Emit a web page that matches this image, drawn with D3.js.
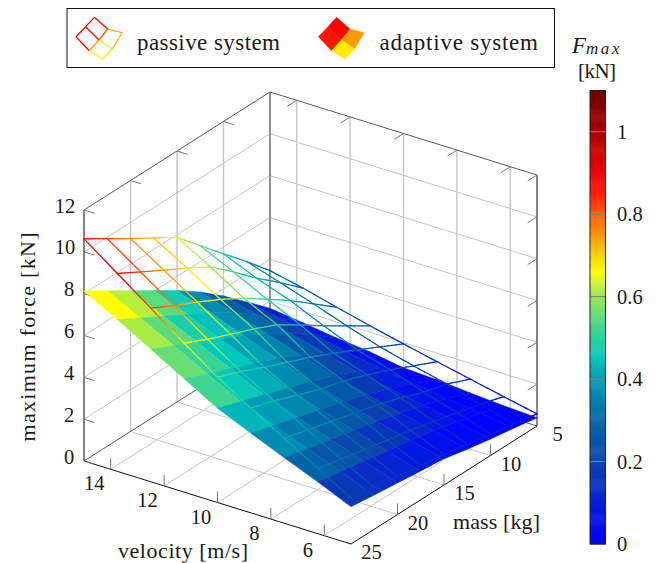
<!DOCTYPE html>
<html>
<head>
<meta charset="utf-8">
<style>
html,body{margin:0;padding:0;background:#fff;}
svg{display:block;}
text{font-family:"Liberation Serif",serif;fill:#1a1a1a;}
</style>
<script src="https://cdn.jsdelivr.net/npm/d3@7"></script>
</head>
<body>
<svg id="chart" width="661" height="563"></svg>
<script>
const velocityGrid = [15,13.75,12.5,11.25,10,8.75,7.5,6.25,5];
const massGrid = [25,22.5,20,17.5,15,12.5,10,7.5,5];
const velocityTicks = [14,12,10,8,6];
const massTicks = [5,10,15,20,25];
const forceTicks = [0,2,4,6,8,10,12];
const colorbarTicks = [0,0.2,0.4,0.6,0.8,1];

// rows: velocity, columns: mass
const passiveForce = [
 [10.62,9.93,9.22,8.55,7.87,6.77,5.67,4.60,3.46],
 [9.46,8.83,8.21,7.60,6.96,6.01,5.00,4.09,3.11],
 [8.30,7.72,7.18,6.60,5.96,5.20,4.43,3.57,2.70],
 [7.12,6.61,6.13,5.69,5.18,4.47,3.72,3.01,2.31],
 [5.98,5.56,5.06,4.59,4.13,3.61,3.07,2.50,1.94],
 [5.01,4.65,4.23,3.80,3.49,3.07,2.61,2.09,1.59],
 [4.07,3.76,3.45,3.15,2.84,2.47,2.03,1.72,1.25],
 [3.12,2.85,2.60,2.36,2.12,1.85,1.55,1.25,0.91],
 [2.20,2.00,1.82,1.64,1.46,1.25,1.03,0.80,0.58]
];
const passiveLevel = [
 [.90,.83,.76,.71,.65,.56,.46,.37,.28],
 [.89,.82,.75,.69,.60,.52,.43,.34,.27],
 [.83,.77,.70,.64,.58,.50,.42,.34,.26],
 [.67,.65,.61,.55,.50,.43,.35,.29,.23],
 [.56,.50,.46,.43,.40,.35,.30,.24,.18],
 [.47,.44,.41,.37,.33,.29,.24,.19,.13],
 [.42,.39,.36,.32,.28,.24,.19,.14,.10],
 [.34,.31,.28,.25,.21,.17,.14,.10,.07],
 [.20,.18,.16,.14,.12,.10,.08,.06,.04]
];
const adaptiveForce = [
 [8.13,7.43,6.73,6.04,5.33,4.55,3.66,2.67,1.66],
 [7.26,6.63,6.01,5.39,4.76,4.06,3.27,2.38,1.45],
 [6.35,5.80,5.26,4.72,4.16,3.55,2.86,2.09,1.23],
 [5.42,4.96,4.49,4.03,3.56,3.03,2.44,1.78,1.06],
 [4.51,4.12,3.74,3.35,2.96,2.53,2.03,1.48,0.80],
 [3.81,3.48,3.16,2.83,2.50,2.13,1.72,1.25,0.72],
 [3.13,2.86,2.59,2.33,2.05,1.75,1.41,1.03,0.59],
 [2.48,2.27,2.05,1.84,1.63,1.39,1.12,0.82,0.47],
 [1.78,1.64,1.51,1.38,1.26,1.00,0.79,0.60,0.40]
];
const adaptiveLevel = [
 [.66,.62,.55,.47,.37,.27,.19,.10],
 [.61,.55,.48,.44,.38,.30,.20,.09],
 [.56,.51,.45,.41,.35,.26,.17,.07],
 [.52,.46,.42,.37,.30,.22,.13,.05],
 [.43,.40,.36,.31,.25,.17,.09,.03],
 [.37,.33,.29,.25,.19,.12,.06,.02],
 [.28,.25,.21,.16,.11,.07,.03,.01],
 [.17,.14,.11,.08,.05,.03,.01,.01]
];
const colormapStops = [0,.05,.1,.2,.3,.4,.45,.55,.62,.66,.75,.8,.88,1,1.1];
const colormapColors = ["#0000ff","#000fec","#0520d8","#0c44aa","#0069aa","#009bb4","#00c8be","#5adc7d","#b4f03c","#ffff00","#ff9600","#ff5a00","#ff0000","#aa0000","#6e0000"];

const color = d3.scaleLinear().domain(colormapStops).range(colormapColors).clamp(true);

const svg = d3.select("#chart");
const ox = 84, oy = 461;
const vX = d3.scaleLinear().domain([15,5]).range([0,267]);
const vY = d3.scaleLinear().domain([15,5]).range([0,83]);
const mX = d3.scaleLinear().domain([25,5]).range([0,186]);
const mY = d3.scaleLinear().domain([25,5]).range([0,-118]);
const zY = d3.scaleLinear().domain([0,12]).range([0,-251]);
const proj = (v,m,z) => [ox+vX(v)+mX(m), oy+vY(v)+mY(m)+zY(z)];
const line = (a,b,stroke,w,g) => (g||svg).append("line")
  .attr("x1",a[0]).attr("y1",a[1]).attr("x2",b[0]).attr("y2",b[1])
  .attr("stroke",stroke).attr("stroke-width",w);
const label = (x,y,s,size,len,anchor,g) => {
  const t=(g||svg).append("text").attr("x",x).attr("y",y).attr("font-size",size)
    .attr("text-anchor",anchor||"middle").attr("dominant-baseline","central").text(s);
  if(len) t.attr("textLength",len).attr("lengthAdjust","spacing");
  return t;
};

// grid
const gridC="#c6c6c6", gridW=1;
const grid=svg.append("g");
velocityTicks.forEach(v=>{
  line(proj(v,25,0),proj(v,5,0),gridC,gridW,grid);
  line(proj(v,5,0),proj(v,5,12),gridC,gridW+.4,grid);
});
massTicks.filter(m=>m<25&&m>5).forEach(m=>{
  line(proj(15,m,0),proj(5,m,0),gridC,gridW,grid);
  line(proj(15,m,0),proj(15,m,12),gridC,gridW+.4,grid);
});
forceTicks.filter(z=>z>0&&z<12).forEach(z=>{
  line(proj(15,25,z),proj(15,5,z),gridC,gridW,grid);
  line(proj(15,5,z),proj(5,5,z),gridC,gridW,grid);
});

// box
const boxBack="#5a5a5a";
line(proj(15,25,0),proj(15,25,12),"#666",1.6);
line(proj(15,5,0),proj(15,5,12),"#777",1.6);
line(proj(5,5,0),proj(5,5,12),"#666",1.6);
line(proj(15,25,12),proj(15,5,12),boxBack,1);
line(proj(15,5,12),proj(5,5,12),boxBack,1);
line(proj(15,25,0),proj(15,5,0),boxBack,1);
line(proj(15,5,0),proj(5,5,0),boxBack,1);
line(proj(15,25,0),proj(5,25,0),"#111",1);
line(proj(5,25,0),proj(5,5,0),"#111",1);

// ticks
const tickC="#777", tl=11;
const tickV=[10.5,3.3], tickM=[-9.3,5.9];
forceTicks.forEach(z=>{
  const a=proj(15,25,z); line(a,[a[0]+tickV[0],a[1]+tickV[1]],tickC,1);
  const b=proj(5,5,z);
  if(z>0) line(b,[b[0]+tickM[0],b[1]+tickM[1]],tickC,1);
  label(a[0]-15-(z>=10?4:0),a[1]-4.5,String(z),20.5);
});
velocityTicks.forEach(v=>{
  const a=proj(v,25,0); line(a,[a[0],a[1]-tl],tickC,1);
  const t=proj(v,5,12); line(t,[t[0]+tickM[0],t[1]+tickM[1]],tickC,1);
  label(a[0]-16.5,a[1]+14,String(v),20.5);
});
massTicks.forEach(m=>{
  const a=proj(5,m,0);
  if(m>5&&m<25) line(a,[a[0],a[1]-tl],tickC,1);
  if(m>5&&m<25){const t=proj(15,m,12); line(t,[t[0]+tickV[0],t[1]+tickV[1]],tickC,1);}
  label(a[0]+20.5,a[1]+8,String(m),20.5);
});

// adaptive surface, painted back to front
const surface=svg.append("g");
d3.range(7,-1,-1).forEach(j=>{
  d3.range(0,8).forEach(i=>{
    const pts=[[i,j],[i,j+1],[i+1,j+1],[i+1,j]].map(([a,b])=>proj(velocityGrid[a],massGrid[b],adaptiveForce[a][b]));
    const c=color(adaptiveLevel[i][j]);
    surface.append("path").attr("d",d3.line()(pts)+"Z").attr("fill",c).attr("stroke",c).attr("stroke-width",.5);
  });
});

// passive mesh
const mesh=svg.append("g").attr("fill","none").attr("stroke-width",1.25).attr("stroke-linecap","round");
function meshSeg(a1,b1,a2,b2){
  const p=proj(velocityGrid[a1],massGrid[b1],passiveForce[a1][b1]);
  const q=proj(velocityGrid[a2],massGrid[b2],passiveForce[a2][b2]);
  const t1=passiveLevel[a1][b1], t2=passiveLevel[a2][b2];
  const n=6;
  d3.range(n).forEach(k=>{
    const f=k/n, g=(k+1)/n;
    mesh.append("line")
      .attr("x1",p[0]+(q[0]-p[0])*f).attr("y1",p[1]+(q[1]-p[1])*f)
      .attr("x2",p[0]+(q[0]-p[0])*g).attr("y2",p[1]+(q[1]-p[1])*g)
      .attr("stroke",color(t1+(t2-t1)*(f+g)/2));
  });
}
d3.range(9).forEach(i=>d3.range(8).forEach(j=>{meshSeg(i,j,i,j+1);meshSeg(j,i,j+1,i);}));

// axis titles
label(183,550.5,"velocity [m/s]",22,130);
label(496.5,521.5,"mass [kg]",22,87);
label(0,0,"maximum force [kN]",22,209).attr("transform","translate(27,337) rotate(-90)");

// legend
svg.append("rect").attr("x",67).attr("y",8.5).attr("width",487.5).attr("height",59)
  .attr("fill","#fff").attr("stroke","#111").attr("stroke-width",1);
const icon={t:[94.3,17.3],l:[76,36.7],b:[102.7,59],r:[122,32.7],c:[99,40],tr:[107.7,29],lb:[89.3,50.7],tl:[85.7,26.7],br:[112.3,49]};
const red="#ff0000", red2="#ff1400", org="#ff9b00", yel="#ffeb00";
[[["t","tr"],red],[["t","tl"],red],[["tl","l"],red],[["l","lb"],red],[["tl","c"],red],[["tr","c"],"#ff5a00"],
 [["tr","r"],org],[["r","br"],"#ffb400"],[["c","br"],yel],[["c","lb"],"#ff9600"],[["lb","b"],yel],[["b","br"],yel]]
 .forEach(([[a,b],c])=>line(icon[a],icon[b],c,1.25));
const dx=242.3, shift=p=>[p[0]+dx,p[1]];
[[["t","tr","c","tl"],red],[["tl","c","lb","l"],red2],[["tr","r","br","c"],org],[["c","br","b","lb"],yel]]
 .forEach(([ks,c])=>svg.append("path").attr("d",d3.line()(ks.map(k=>shift(icon[k])))+"Z").attr("fill",c).attr("stroke",c).attr("stroke-width",.4));
label(137,42.5,"passive system",23,143,"start");
label(379.5,42.5,"adaptive system",23,158.5,"start");

// colorbar
const cb=d3.scaleLinear().domain([0,1.1]).range([544,90.5]);
const bar=svg.append("g");
d3.range(0,1.1,0.0025).forEach(t=>{
  bar.append("rect").attr("x",590).attr("width",15.5).attr("y",cb(t+0.0025)).attr("height",cb(t)-cb(t+0.0025)+.5).attr("fill",color(t));
});
bar.append("rect").attr("x",590).attr("y",90.5).attr("width",15.5).attr("height",453.5).attr("fill","none").attr("stroke","#222").attr("stroke-width",1);
colorbarTicks.forEach(t=>{
  if(t>0) line([590.5,cb(t)],[605,cb(t)],"#808080",1.1);
  label(617,cb(t),String(t),20.5,null,"start");
});
label(597,71,"[kN]",21,38);
const fm=svg.append("text").attr("x",597).attr("y",45).attr("text-anchor","middle").attr("dominant-baseline","central").attr("font-style","italic");
fm.append("tspan").attr("font-size",23).text("F");
fm.append("tspan").attr("font-size",17).attr("dy",3).attr("letter-spacing",2.6).text("max");
</script>
</body>
</html>
